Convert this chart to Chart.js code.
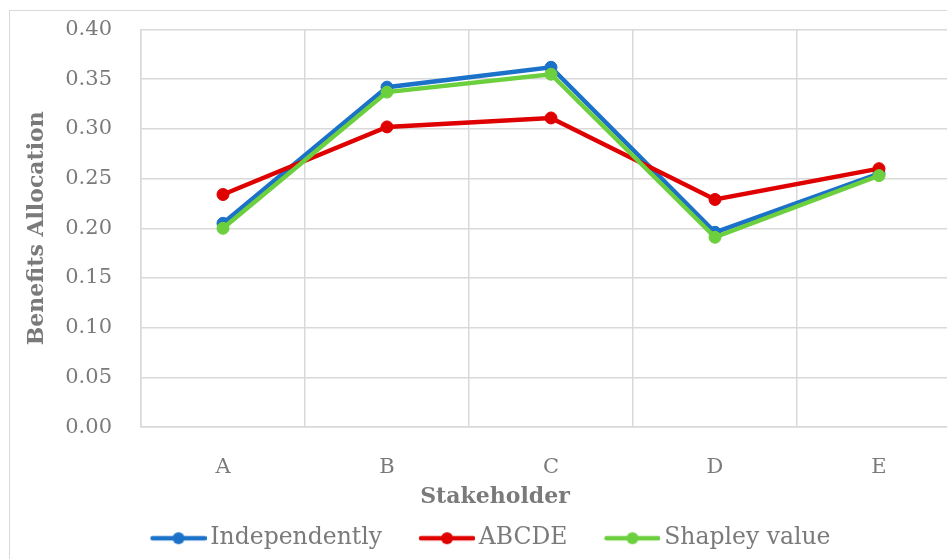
<!DOCTYPE html>
<html>
<head>
<meta charset="utf-8">
<script src="https://cdn.jsdelivr.net/npm/chart.js@4.4.1/dist/chart.umd.min.js"></script>
<style>
  html, body { margin: 0; padding: 0; background: #fff; overflow: hidden; }
  #wrap { position: relative; width: 947px; height: 559px; overflow: hidden; }
  #chart { position: absolute; left: 0; top: 0; }
  #frame { position: absolute; left: 9px; top: 10px; width: 975px; height: 570px;
           border: 1.5px solid #d9d9d9; box-sizing: border-box; pointer-events: none; }
</style>
</head>
<body>
<div id="wrap">
  <canvas id="chart" width="990" height="566"></canvas>
  <div id="frame"></div>
</div>
<script>
// Dados do gráfico
const stakeholders = ['A', 'B', 'C', 'D', 'E'];
const independently = [0.205, 0.342, 0.362, 0.196, 0.255];
const coalitionABCDE = [0.234, 0.302, 0.311, 0.229, 0.260];
const shapleyValue = [0.200, 0.337, 0.355, 0.191, 0.253];
const yTickLabels = ['0.00', '0.05', '0.10', '0.15', '0.20', '0.25', '0.30', '0.35', '0.40'];

const seriesNames = ['Independently', 'ABCDE', 'Shapley value'];
const seriesColors = ['#1b72c8', '#df0000', '#6ccf3e'];

const FONT = "'DejaVu Serif', serif";
const GREY = '#7a7a7a';
const GRID = '#d9d9d9';

// Ícones da legenda: linha com marcador no meio (estilo Excel)
function legendIcon(color) {
    const c = document.createElement('canvas');
    c.width = 91;
    c.height = 16;
    const ctx = c.getContext('2d');
    ctx.strokeStyle = color;
    ctx.lineWidth = 4.5;
    ctx.lineCap = 'round';
    ctx.beginPath();
    ctx.moveTo(37, 8);
    ctx.lineTo(89, 8);
    ctx.stroke();
    ctx.fillStyle = color;
    ctx.beginPath();
    ctx.arc(63, 8, 6, 0, Math.PI * 2);
    ctx.fill();
    return c;
}
const legendIcons = seriesColors.map(legendIcon);

// Desloca a legenda um pouco para a esquerda (o ícone tem margem à esquerda)
const legendShift = {
    id: 'legendShift',
    afterLayout(chart) {
        chart.legend.left -= 18;
        chart.legend.right -= 18;
    }
};

function makeDataset(i, values, order) {
    return {
        label: seriesNames[i],
        data: values,
        borderColor: seriesColors[i],
        backgroundColor: seriesColors[i],
        pointBackgroundColor: seriesColors[i],
        pointBorderColor: seriesColors[i],
        borderWidth: 4.5,
        pointRadius: 6,
        pointBorderWidth: 1,
        tension: 0,
        fill: false,
        order: order
    };
}

new Chart(document.getElementById('chart'), {
    type: 'line',
    data: {
        labels: stakeholders,
        datasets: [
            makeDataset(0, independently, 3),
            makeDataset(1, coalitionABCDE, 2),
            makeDataset(2, shapleyValue, 1)
        ]
    },
    plugins: [legendShift],
    options: {
        responsive: false,
        devicePixelRatio: 1,
        animation: false,
        layout: { padding: { left: 29, right: 29, top: 29.5, bottom: 6 } },
        plugins: {
            tooltip: { enabled: false },
            title: {
                display: true,
                text: 'Stakeholder',
                position: 'bottom',
                weight: 500,
                color: GREY,
                font: { family: FONT, size: 22, weight: 'bold' },
                padding: { top: 7, bottom: 6 }
            },
            legend: {
                position: 'bottom',
                labels: {
                    usePointStyle: true,
                    pointStyleWidth: 75,
                    boxHeight: 14,
                    padding: 10,
                    color: GREY,
                    font: { family: FONT, size: 23.5 },
                    generateLabels: chart => chart.data.datasets.map((ds, i) => ({
                        text: ds.label,
                        fillStyle: ds.borderColor,
                        strokeStyle: ds.borderColor,
                        fontColor: GREY,
                        lineWidth: 0,
                        pointStyle: legendIcons[i],
                        hidden: !chart.isDatasetVisible(i),
                        datasetIndex: i
                    }))
                }
            }
        },
        scales: {
            x: {
                offset: true,
                afterFit: scale => { scale.height = 50; },
                grid: { offset: true, color: GRID, lineWidth: 1.5, drawTicks: false },
                border: { color: GRID, width: 1.5 },
                ticks: { color: GREY, padding: 28, font: { family: FONT, size: 21 } }
            },
            y: {
                min: 0,
                max: 0.4,
                afterBuildTicks: scale => {
                    scale.ticks = yTickLabels.map(t => ({ value: parseFloat(t) }));
                },
                afterFit: scale => {
                    scale.width = 112;
                    scale.paddingTop = 0;
                    scale.paddingBottom = 0;
                },
                grid: { color: GRID, lineWidth: 1.5, drawTicks: false },
                border: { color: GRID, width: 1.5 },
                ticks: {
                    color: GREY,
                    padding: 29,
                    font: { family: FONT, size: 21 },
                    callback: (v, i) => yTickLabels[i]
                },
                title: {
                    display: true,
                    text: 'Benefits Allocation',
                    color: GREY,
                    font: { family: FONT, size: 22, weight: 'bold' },
                    padding: { top: -5, bottom: 0 }
                }
            }
        }
    }
});
</script>
</body>
</html>
